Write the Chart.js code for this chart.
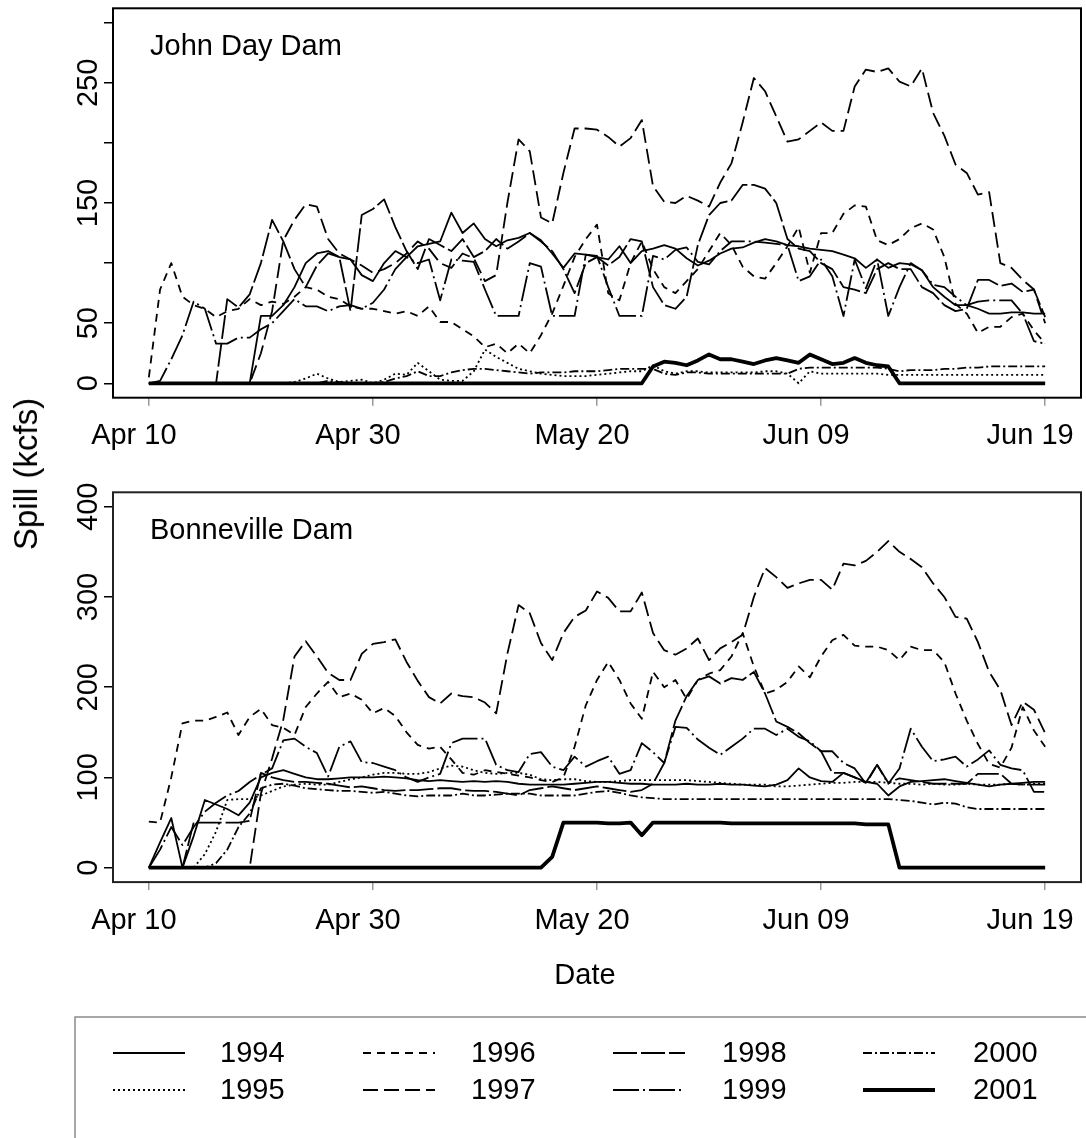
<!DOCTYPE html>
<html>
<head>
<meta charset="utf-8">
<title>Spill at John Day and Bonneville dams</title>
<script src="https://cdn.jsdelivr.net/npm/chart.js@4.4.0/dist/chart.umd.min.js"></script>
<style>
  html, body { margin: 0; padding: 0; background: #fff; }
  body { width: 1086px; height: 1138px; position: relative; overflow: hidden; }
  canvas { position: absolute; left: 0; }
  #topPanel { top: 0; }
  #bottomPanel { top: 470px; }
  #ylab {
    position: absolute; left: 26px; top: 474px;
    transform: translate(-50%, -50%) rotate(-90deg);
    font: 33px "Liberation Sans", Arial, Helvetica, sans-serif;
    white-space: nowrap; color: #000;
  }
</style>
</head>
<body>
<canvas id="topPanel" width="1086" height="470"></canvas>
<canvas id="bottomPanel" width="1086" height="668"></canvas>
<div id="ylab">Spill (kcfs)</div>
<script>
// day index since Apr 10
const days = [
  0, 1, 2, 3, 4, 5, 6, 7, 8, 9,
  10, 11, 12, 13, 14, 15, 16, 17, 18, 19,
  20, 21, 22, 23, 24, 25, 26, 27, 28, 29,
  30, 31, 32, 33, 34, 35, 36, 37, 38, 39,
  40, 41, 42, 43, 44, 45, 46, 47, 48, 49,
  50, 51, 52, 53, 54, 55, 56, 57, 58, 59,
  60, 61, 62, 63, 64, 65, 66, 67, 68, 69,
  70, 71, 72, 73, 74, 75, 76, 77, 78, 79, 80
];
const years = ['1994', '1995', '1996', '1997', '1998', '1999', '2000', '2001'];
const tickDays = [0, 20, 40, 60, 80];
const tickLabels = ['Apr 10', 'Apr 30', 'May 20', 'Jun 09', 'Jun 19'];

const jdTicks = [0, 50, 100, 150, 200, 250, 300];
const jdTickLabels = [0, 50, 150, 250];
const bvTicks = [0, 100, 200, 300, 400];
const bvTickLabels = [0, 100, 200, 300, 400];

// John Day Dam spill (kcfs)
const jd1994 = [
  0, 0, 0, 0, 0, 0, 0, 0, 0, 0,
  56, 56, 65, 80, 100, 108, 110, 105, 103, 90,
  85, 100, 110, 105, 114, 116, 118, 142, 125, 133,
  120, 114, 119, 121, 125, 119, 108, 96, 108, 107,
  105, 103, 114, 100, 110, 112, 115, 112, 104, 98,
  102, 108, 112, 113, 117, 120, 118, 115, 114, 112,
  111, 110, 107, 104, 96, 103, 96, 100, 99, 94,
  80, 72, 65, 65, 62, 58, 58, 59, 59, 58, 58
];
const jd1995 = [
  0, 0, 0, 0, 0, 0, 0, 0, 0, 0,
  0, 0, 0, 1, 4, 8, 4, 1, 2, 3,
  0, 3, 8, 7, 17, 10, 3, 2, 2, 10,
  28, 22, 17, 12, 10, 8, 7, 6, 6, 6,
  7, 8, 9, 10, 10, 15, 10, 8, 10, 10,
  9, 9, 9, 9, 9, 10, 10, 8, 0, 10,
  8, 8, 8, 8, 8, 8, 7, 7, 7, 7,
  7, 7, 7, 7, 7, 7, 7, 7, 7, 7, 7
];
const jd1996 = [
  5, 78, 100, 72, 65, 62, 55, 60, 62, 70,
  65, 68, 66, 72, 80, 78, 72, 70, 64, 62,
  62, 60, 58, 60, 56, 64, 51, 51, 45, 39,
  30, 33, 25, 33, 25, 40, 58, 81, 105, 120,
  132, 75, 69, 100, 118, 95, 80, 75, 85, 95,
  110, 125, 115, 97, 89, 87, 100, 114, 130, 92,
  125, 125, 141, 148, 147, 119, 115, 120, 129, 133,
  128, 105, 66, 58, 42, 47, 47, 55, 58, 44, 33
];
const jd1997 = [
  0, 0, 0, 0, 0, 0, 0, 0, 0, 0,
  25, 60, 119, 136, 149, 147, 120, 108, 103, 98,
  92, 95, 100, 108, 118, 112, 100, 96, 108, 104,
  85, 90, 150, 203, 193, 138, 133, 175, 212, 212,
  211, 205, 197, 204, 219, 164, 151, 150, 156, 152,
  147, 167, 183, 217, 254, 243, 222, 201, 203, 210,
  217, 210, 210, 247, 261, 259, 262, 251, 247, 262,
  225, 206, 182, 175, 157, 159, 100, 96, 86, 78, 50
];
const jd1998 = [
  0, 0, 0, 0, 0, 0, 0, 70, 63, 74,
  100, 136, 118, 95, 80, 98, 108, 105, 60, 140,
  145, 153, 130, 110, 95, 120, 115, 110, 120, 105,
  110, 120, 112, 118, 125, 118, 110, 95, 75, 100,
  105, 98, 105, 120, 118, 80, 65, 62, 72, 115,
  140, 150, 152, 165, 165, 162, 150, 120, 112, 110,
  100, 95, 80, 78, 75, 95, 100, 95, 95, 80,
  75, 65, 60, 62, 86, 86, 81, 83, 76, 78, 55
];
const jd1999 = [
  0, 2, 20, 40, 68, 62, 33, 33, 38, 38,
  45, 50, 60, 70, 64, 64, 60, 64, 65, 62,
  67, 78, 95, 105, 100, 103, 69, 103, 102, 101,
  78, 56, 56, 56, 100, 97, 56, 56, 56, 107,
  106, 80, 56, 56, 56, 106, 103, 111, 113, 101,
  99, 110, 118, 118, 118, 117, 116, 115, 85, 89,
  103, 89, 56, 103, 79, 103, 56, 80, 100, 94,
  82, 80, 72, 65, 68, 69, 69, 69, 58, 35, 33
];
const jd2000 = [
  0, 0, 0, 0, 0, 0, 0, 0, 0, 0,
  0, 0, 0, 0, 0, 0, 2, 1, 0, 0,
  0, 1, 4, 6, 10, 6, 6, 9, 11, 12,
  12, 11, 10, 9, 8, 9, 9, 9, 10, 10,
  10, 11, 12, 12, 12, 12, 8, 7, 9, 9,
  8, 8, 8, 8, 8, 8, 8, 8, 12, 13,
  13, 13, 13, 13, 13, 13, 12, 10, 11, 11,
  11, 12, 12, 13, 13, 14, 14, 14, 14, 14, 14
];
const jd2001 = [
  0, 0, 0, 0, 0, 0, 0, 0, 0, 0,
  0, 0, 0, 0, 0, 0, 0, 0, 0, 0,
  0, 0, 0, 0, 0, 0, 0, 0, 0, 0,
  0, 0, 0, 0, 0, 0, 0, 0, 0, 0,
  0, 0, 0, 0, 0, 14, 18, 17, 15, 19,
  24, 20, 20, 18, 16, 19, 21, 19, 17, 24,
  20, 16, 17, 21, 17, 15, 14, 0, 0, 0,
  0, 0, 0, 0, 0, 0, 0, 0, 0, 0, 0
];

// Bonneville Dam spill (kcfs)
const bv1994 = [
  0, 28, 55, 0, 35, 75, 70, 65, 58, 72,
  100, 105, 108, 104, 100, 98, 98, 99, 100, 100,
  100, 101, 100, 99, 97, 96, 97, 96, 95, 96,
  95, 96, 95, 93, 92, 92, 92, 92, 93, 94,
  95, 95, 94, 93, 93, 92, 92, 92, 93, 92,
  92, 93, 92, 92, 91, 90, 92, 97, 110, 100,
  96, 95, 105, 100, 95, 93, 80, 90, 95, 96,
  97, 98, 96, 94, 92, 90, 92, 93, 94, 95, 95
];
const bv1995 = [
  0, 0, 0, 0, 0, 15, 40, 75, 76, 76,
  80, 85, 90, 92, 93, 92, 92, 95, 98, 100,
  103, 105, 105, 104, 104, 106, 110, 113, 112, 108,
  105, 104, 105, 105, 103, 98, 97, 98, 98, 96,
  95, 95, 96, 97, 97, 97, 97, 97, 97, 96,
  95, 94, 93, 92, 92, 92, 90, 90, 91, 92,
  93, 94, 94, 95, 95, 95, 94, 93, 93, 92,
  93, 92, 92, 93, 92, 92, 92, 93, 92, 93, 93
];
const bv1996 = [
  51, 50, 100, 160, 163, 163, 167, 172, 147, 167,
  176, 158, 155, 147, 178, 193, 206, 189, 193, 186,
  171, 177, 168, 150, 136, 132, 134, 120, 105, 103,
  108, 106, 104, 102, 100, 97, 95, 100, 134, 180,
  208, 228, 208, 182, 165, 217, 200, 208, 187, 208,
  215, 219, 234, 260, 223, 193, 197, 206, 223, 211,
  234, 252, 258, 246, 245, 245, 241, 230, 245, 241,
  241, 228, 193, 163, 137, 115, 111, 133, 178, 152, 134
];
const bv1997 = [
  0, 0, 0, 0, 0, 0, 0, 0, 0, 0,
  82, 121, 164, 234, 251, 234, 216, 208, 208, 237,
  248, 250, 253, 228, 207, 189, 182, 193, 190, 189,
  183, 171, 237, 291, 282, 249, 230, 260, 278, 285,
  306, 299, 284, 284, 305, 260, 241, 236, 243, 254,
  230, 243, 250, 258, 300, 332, 322, 310, 315, 319,
  319, 308, 337, 335, 340, 350, 362, 350, 342, 333,
  315, 300, 278, 276, 250, 217, 197, 158, 184, 175, 149
];
const bv1998 = [
  0, 0, 0, 0, 50, 50, 50, 50, 50, 52,
  105, 100, 97, 95, 95, 94, 93, 91, 89, 90,
  88, 86, 85, 86, 86, 87, 88, 88, 86, 85,
  85, 84, 82, 80, 86, 88, 90, 88, 86, 88,
  90, 88, 86, 84, 86, 93, 116, 163, 190, 208,
  212, 204, 210, 208, 217, 193, 162, 156, 149, 138,
  129, 105, 105, 100, 94, 114, 94, 99, 97, 95,
  93, 93, 93, 93, 104, 104, 104, 93, 92, 92, 92
];
const bv1999 = [
  0, 20, 45, 25, 45, 62, 72, 80, 85, 95,
  103, 110, 141, 143, 134, 127, 101, 134, 140, 117,
  116, 112, 108, 100, 95, 100, 104, 138, 143, 143,
  143, 114, 108, 106, 126, 128, 112, 108, 123, 112,
  118, 123, 104, 108, 138, 128, 116, 156, 155, 142,
  133, 125, 134, 143, 154, 154, 147, 154, 145, 140,
  129, 129, 116, 110, 93, 114, 93, 110, 154, 134,
  118, 120, 123, 112, 120, 130, 114, 110, 108, 84, 84
];
const bv2000 = [
  0, 0, 0, 0, 0, 0, 5, 20, 45, 60,
  88, 92, 93, 91, 88, 87, 86, 85, 85, 84,
  83, 84, 82, 80, 79, 80, 80, 80, 82, 80,
  80, 81, 82, 82, 82, 80, 80, 80, 80, 82,
  84, 85, 83, 80, 78, 77, 76, 76, 76, 76,
  76, 76, 76, 76, 76, 76, 76, 76, 76, 76,
  76, 76, 76, 76, 76, 76, 76, 75, 74, 72,
  70, 72, 71, 67, 65, 65, 65, 65, 65, 65, 65
];
const bv2001 = [
  0, 0, 0, 0, 0, 0, 0, 0, 0, 0,
  0, 0, 0, 0, 0, 0, 0, 0, 0, 0,
  0, 0, 0, 0, 0, 0, 0, 0, 0, 0,
  0, 0, 0, 0, 0, 0, 12, 50, 50, 50,
  50, 49, 49, 50, 36, 50, 50, 50, 50, 50,
  50, 50, 49, 49, 49, 49, 49, 49, 49, 49,
  49, 49, 49, 49, 48, 48, 48, 0, 0, 0,
  0, 0, 0, 0, 0, 0, 0, 0, 0, 0, 0
];

// one line type per year, same order as years
const lineDash = [[], [2, 3], [8, 6], [15, 6], [24, 4], [26, 4, 2, 4], [9, 3, 2, 3], []];
const lineWidth = [1.8, 1.8, 1.8, 1.8, 1.8, 1.8, 1.8, 3.8];

const FONT = '"Liberation Sans", Arial, Helvetica, sans-serif';
Chart.defaults.font.family = FONT;
Chart.defaults.color = '#000';

// frame, rotated y labels, panel name, plus axis title and key on the lower panel
function panelDecor(opt) {
  return {
    id: 'panelDecor',
    afterDraw(chart) {
      const ctx = chart.ctx;
      const area = chart.chartArea;
      const yScale = chart.scales.y;
      ctx.save();
      ctx.strokeStyle = opt.frameColor;
      ctx.lineWidth = 2;
      ctx.strokeRect(area.left, area.top, area.right - area.left, area.bottom - area.top);

      ctx.fillStyle = '#000';
      ctx.font = '29px ' + FONT;
      opt.yLabels.forEach(v => {
        ctx.save();
        ctx.translate(97, yScale.getPixelForValue(v));
        ctx.rotate(-Math.PI / 2);
        ctx.textAlign = 'center';
        ctx.textBaseline = 'alphabetic';
        ctx.fillText(String(v), 0, 0);
        ctx.restore();
      });

      ctx.textAlign = 'left';
      ctx.textBaseline = 'alphabetic';
      ctx.fillText(opt.title, 150, area.top + 47);

      if (opt.withKey) {
        ctx.textAlign = 'center';
        ctx.fillText('Date', 585, 514);

        // key box: only its left and top edges fall on the page
        ctx.strokeStyle = '#8a8a8a';
        ctx.lineWidth = 1.5;
        ctx.beginPath();
        ctx.moveTo(75, chart.height);
        ctx.lineTo(75, 547);
        ctx.lineTo(chart.width, 547);
        ctx.stroke();

        chart.data.datasets.forEach((ds, i) => {
          const col = Math.floor(i / 2);
          const row = i % 2;
          const y = 583 + row * 37;
          const x0 = 113 + col * 250;
          ctx.save();
          ctx.strokeStyle = '#000';
          ctx.lineWidth = ds.borderWidth;
          ctx.setLineDash(ds.borderDash);
          ctx.lineCap = 'butt';
          ctx.beginPath();
          ctx.moveTo(x0, y);
          ctx.lineTo(x0 + 72, y);
          ctx.stroke();
          ctx.restore();
          ctx.textAlign = 'left';
          ctx.textBaseline = 'middle';
          ctx.fillText(ds.label, 220 + col * 251, y + 1);
        });
      }
      ctx.restore();
    }
  };
}

function buildPanel(id, seriesList, opt) {
  return new Chart(document.getElementById(id), {
    type: 'line',
    data: {
      datasets: years.map((yr, i) => ({
        label: yr,
        data: days.map((d, k) => ({ x: d, y: seriesList[i][k] })),
        borderColor: '#000',
        borderWidth: lineWidth[i],
        borderDash: lineDash[i],
        borderCapStyle: 'butt',
        borderJoinStyle: 'round',
        pointRadius: 0,
        tension: 0,
        fill: false
      }))
    },
    options: {
      responsive: false,
      animation: false,
      events: [],
      layout: { padding: { top: opt.padTop, right: 5, left: 0, bottom: 0 } },
      plugins: { legend: { display: false }, tooltip: { enabled: false } },
      scales: {
        x: {
          type: 'linear',
          min: -3.2,
          max: 83.2,
          afterBuildTicks: s => { s.ticks = tickDays.map(v => ({ value: v })); },
          afterFit: s => { s.height = opt.xHeight; s.paddingLeft = 0; s.paddingRight = 0; },
          border: { display: false },
          grid: { drawOnChartArea: false, drawTicks: true, tickLength: 8, color: '#999', lineWidth: 1.5 },
          ticks: {
            autoSkip: false, minRotation: 0, maxRotation: 0,
            labelOffset: -15, padding: 13,
            font: { family: FONT, size: 29 }, color: '#000',
            callback: v => { const k = tickDays.indexOf(v); return k >= 0 ? tickLabels[k] : ''; }
          }
        },
        y: {
          min: opt.yMin,
          max: opt.yMax,
          afterBuildTicks: s => { s.ticks = opt.yTicks.map(v => ({ value: v })); },
          afterFit: s => { s.width = 113; s.paddingTop = 0; s.paddingBottom = 0; },
          border: { display: false },
          grid: { drawOnChartArea: false, drawTicks: true, tickLength: 9, color: '#000', lineWidth: 1.5 },
          ticks: { display: false }
        }
      }
    },
    plugins: [panelDecor(opt)]
  });
}

buildPanel('topPanel', [jd1994, jd1995, jd1996, jd1997, jd1998, jd1999, jd2000, jd2001], {
  title: 'John Day Dam', yMin: -12, yMax: 312, yTicks: jdTicks, yLabels: jdTickLabels,
  padTop: 8.3, xHeight: 72.3, frameColor: '#000', withKey: false
});

buildPanel('bottomPanel', [bv1994, bv1995, bv1996, bv1997, bv1998, bv1999, bv2000, bv2001], {
  title: 'Bonneville Dam', yMin: -16, yMax: 416, yTicks: bvTicks, yLabels: bvTickLabels,
  padTop: 22.3, xHeight: 255.9, frameColor: '#222', withKey: true
});
</script>
</body>
</html>
